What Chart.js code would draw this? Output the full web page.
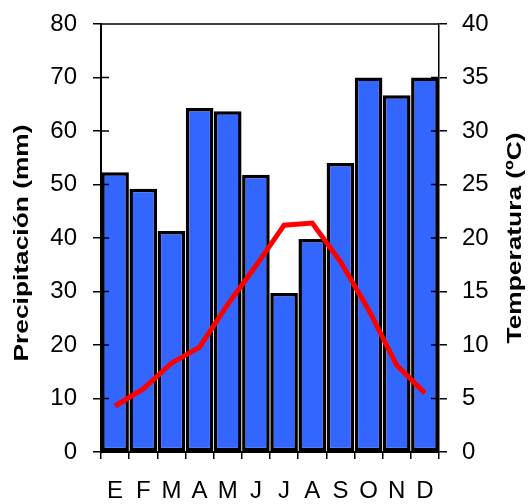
<!DOCTYPE html>
<html>
<head>
<meta charset="utf-8">
<script src="https://cdn.jsdelivr.net/npm/chart.js@4"></script>
<style>
  html, body { margin: 0; padding: 0; background: #fff; }
  #wrap { width: 528px; height: 504px; }
</style>
</head>
<body>
<div id="wrap"><canvas id="climo"></canvas></div>
<script>
// climograma: precipitación (barras) y temperatura (línea)
var months = ['E', 'F', 'M', 'A', 'M', 'J', 'J', 'A', 'S', 'O', 'N', 'D'];
var precip = [52.3, 49.2, 41.3, 64.3, 63.7, 51.8, 29.7, 39.8, 54, 70, 66.7, 70];
var temps = [4.3, 5.9, 8.3, 9.8, 13.8, 17.4, 21.2, 21.4, 17.8, 13.3, 8.1, 5.5];
var precipTicks = [0, 10, 20, 30, 40, 50, 60, 70, 80];
var tempTicks = [0, 5, 10, 15, 20, 25, 30, 35, 40];

Chart.defaults.font.family = "'Liberation Sans', Arial, sans-serif";
Chart.defaults.color = '#000';

// títulos vertical (de abajo hacia arriba), algo estirados como en el original
function drawTitle(c, text, x, y, len) {
  c.save();
  c.translate(x, y);
  c.rotate(-Math.PI / 2);
  c.font = "bold 21px 'Liberation Sans', Arial, sans-serif";
  c.textAlign = 'center';
  c.textBaseline = 'middle';
  c.fillStyle = '#000';
  var w = c.measureText(text).width;
  c.scale(len / w, 1);
  c.fillText(text, 0, 0);
  c.restore();
}

// ticks hacia dentro, borde superior y títulos
var frame = {
  id: 'frame',
  afterDraw: function (chart) {
    var c = chart.ctx, a = chart.chartArea;
    var y = chart.scales.y, y1 = chart.scales.y1;
    c.save();
    c.strokeStyle = '#000';
    c.lineWidth = 1.5;
    c.beginPath();
    c.moveTo(a.left, a.top);
    c.lineTo(a.right, a.top);
    precipTicks.forEach(function (v) {
      var py = y.getPixelForValue(v);
      c.moveTo(a.left, py);
      c.lineTo(a.left + 8, py);
    });
    tempTicks.forEach(function (v) {
      var py = y1.getPixelForValue(v);
      c.moveTo(a.right, py);
      c.lineTo(a.right - 8, py);
    });
    c.stroke();
    c.restore();
    drawTitle(c, 'Precipitación (mm)', 22, 243, 237);
    drawTitle(c, 'Temperatura (ºC)', 515, 238, 211);
  }
};

function fitY(w) {
  return function (s) {
    s.width = w;
    s.paddingTop = 0;
    s.paddingBottom = 0;
  };
}

new Chart(document.getElementById('climo'), {
  type: 'bar',
  data: {
    labels: months,
    datasets: [{
      type: 'line',
      label: 'Temperatura',
      data: temps,
      yAxisID: 'y1',
      borderColor: '#ff0000',
      borderWidth: 5,
      pointRadius: 0,
      tension: 0,
      order: 0
    }, {
      label: 'Precipitación',
      data: precip,
      yAxisID: 'y',
      backgroundColor: '#3366ff',
      borderColor: '#000',
      borderWidth: 3.5,
      borderSkipped: false,
      barPercentage: 0.98,
      categoryPercentage: 1,
      order: 1
    }]
  },
  options: {
    responsive: true,
    maintainAspectRatio: false,
    animation: false,
    layout: { padding: { top: 24, left: 0, right: 0, bottom: 0 } },
    plugins: { legend: { display: false }, tooltip: { enabled: false } },
    scales: {
      x: {
        grid: { drawOnChartArea: false, color: '#000', lineWidth: 1.5, tickLength: 7, offset: true },
        border: { color: '#000', width: 2 },
        ticks: { font: { size: 24 }, padding: 18, maxRotation: 0, autoSkip: false },
        afterFit: function (s) { s.height = 52; s.paddingLeft = 0; s.paddingRight = 0; }
      },
      y: {
        position: 'left',
        min: 0, max: 80,
        afterBuildTicks: function (s) { s.ticks = precipTicks.map(function (v) { return { value: v }; }); },
        grid: { drawOnChartArea: false, color: '#000', lineWidth: 1.5, tickLength: 8 },
        border: { color: '#000', width: 2 },
        ticks: { font: { size: 24 }, padding: 16 },
        afterFit: fitY(101)
      },
      y1: {
        position: 'right',
        min: 0, max: 40,
        afterBuildTicks: function (s) { s.ticks = tempTicks.map(function (v) { return { value: v }; }); },
        grid: { drawOnChartArea: false, color: '#000', lineWidth: 1.5, tickLength: 8 },
        border: { color: '#000', width: 1.5 },
        ticks: { font: { size: 24 }, padding: 15 },
        afterFit: fitY(89)
      }
    }
  },
  plugins: [frame]
});
</script>
</body>
</html>
